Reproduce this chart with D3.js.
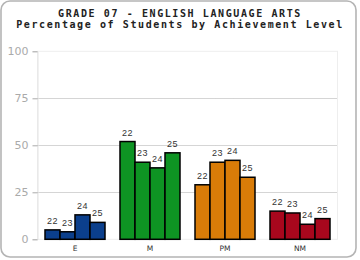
<!DOCTYPE html>
<html><head><meta charset="utf-8">
<script src="https://cdn.jsdelivr.net/npm/d3@7"></script>
<style>html,body{margin:0;padding:0;background:#fff;}svg{display:block;}</style>
</head><body>
<svg id="c" width="360" height="260"></svg>
<script>
const categories = ["E", "M", "PM", "NM"];
const years = ["22", "23", "24", "25"];
const valuesE = [5, 4, 13, 9];
const valuesM = [52, 41, 38, 46];
const valuesPM = [29, 41, 42, 33];
const valuesNM = [15, 14, 8, 11];
const yTicks = [0, 25, 50, 75, 100];
const colors = ["#0b3f8c", "#0e9423", "#d97c08", "#a8071d"];
const titleLines = ["GRADE 07 - ENGLISH LANGUAGE ARTS", "Percentage of Students by Achievement Level"];

const seriesByCat = [valuesE, valuesM, valuesPM, valuesNM];
const svg = d3.select("#c");

svg.append("rect").attr("x", 1).attr("y", 1).attr("width", 355).attr("height", 256)
  .attr("rx", 9).attr("fill", "#fff").attr("stroke", "#b4b4b4").attr("stroke-width", 1.6);

svg.selectAll("text.title").data(titleLines).join("text")
  .attr("class", "title")
  .attr("x", 180).attr("y", (d, i) => 17.3 + i * 10.6)
  .attr("text-anchor", "middle")
  .attr("font-family", "DejaVu Sans Mono, monospace").attr("font-weight", "bold")
  .attr("font-size", 10).attr("letter-spacing", 1.6).attr("fill", "#222")
  .text(d => d);

const x0 = 37.5, x1 = 337.5, yTop = 51.3, yBot = 239.3;
const x = d3.scaleBand().domain(categories).range([x0, x1]).paddingInner(0.2).paddingOuter(0.1);
const xi = d3.scaleBand().domain(years).range([0, x.bandwidth()]);
const y = d3.scaleLinear().domain([0, 100]).range([yBot, yTop]);

// plot frame
svg.append("rect").attr("x", x0).attr("y", yTop).attr("width", x1 - x0).attr("height", yBot - yTop)
  .attr("fill", "none").attr("stroke", "#eeeeee").attr("stroke-width", 1);

// gridlines
svg.selectAll("line.grid").data(yTicks.filter(t => t > 0 && t < 100)).join("line")
  .attr("class", "grid")
  .attr("x1", x0).attr("x2", x1).attr("y1", d => Math.round(y(d)) + 0.5).attr("y2", d => Math.round(y(d)) + 0.5)
  .attr("stroke", "#aaa").attr("stroke-dasharray", "1,1");

// y axis
const yAxis = d3.axisLeft(y).tickValues(yTicks).tickSize(5).tickPadding(4);
const ga = svg.append("g").attr("transform", `translate(${x0},0)`).call(yAxis);
ga.select(".domain").attr("stroke", "#e4e4e4");
ga.selectAll(".tick line").attr("stroke", "#aaa");
ga.selectAll(".tick text").attr("fill", "#aaa").attr("font-family", "DejaVu Sans, sans-serif").attr("font-size", 11);

// x axis labels
const xAxis = d3.axisBottom(x).tickSize(0).tickPadding(6);
const gx = svg.append("g").attr("transform", `translate(0,${yBot})`).call(xAxis);
gx.select(".domain").remove();
gx.selectAll(".tick text").attr("fill", "#333").attr("font-family", "DejaVu Sans, sans-serif").attr("font-size", 7.5);

// bars
categories.forEach((cat, ci) => {
  const g = svg.append("g").attr("transform", `translate(${x(cat)},0)`);
  const data = years.map((yr, i) => ({yr, v: seriesByCat[ci][i]}));
  g.selectAll("rect").data(data).join("rect")
    .attr("x", d => xi(d.yr)).attr("width", xi.bandwidth())
    .attr("y", d => y(d.v)).attr("height", d => y(0) - y(d.v))
    .attr("fill", colors[ci]).attr("stroke", "#000").attr("stroke-width", 1.5);
  g.selectAll("text").data(data).join("text")
    .attr("x", d => xi(d.yr) + xi.bandwidth() / 2).attr("y", d => y(d.v) - 6)
    .attr("text-anchor", "middle").attr("font-family", "Liberation Sans, Arial, sans-serif")
    .attr("font-size", 9).attr("letter-spacing", 0.5).attr("fill", "#333")
    .text(d => d.yr);
});
</script>
</body></html>
